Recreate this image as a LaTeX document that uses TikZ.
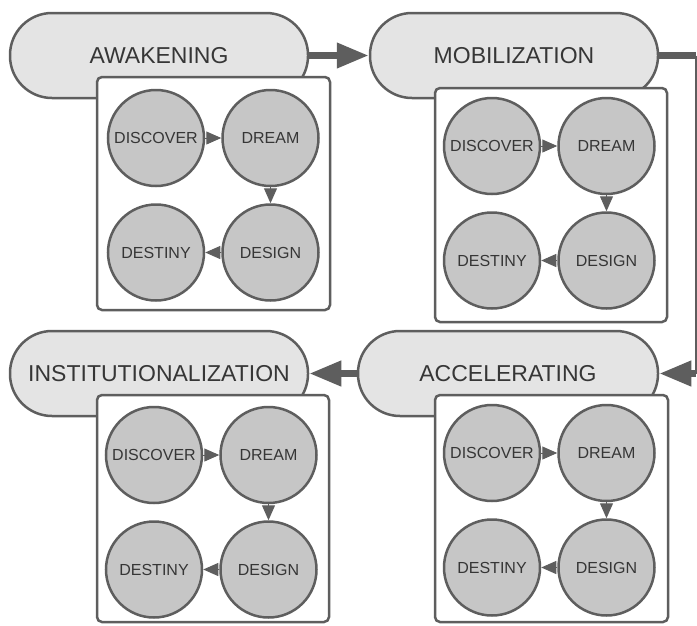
\documentclass[tikz,border=0pt]{standalone}
\usepackage{fontspec}
\setmainfont{Liberation Sans}
\usetikzlibrary{positioning,arrows.meta}

\definecolor{edgegray}{HTML}{5E5E5E}
\definecolor{pillfill}{HTML}{E4E4E4}
\definecolor{stagefill}{HTML}{C6C6C6}
\definecolor{textgray}{HTML}{363636}

\tikzset{
  phase/.style={draw=edgegray, line width=2.5pt, fill=pillfill, rounded corners=42pt,
    minimum height=85pt, text=textgray, font=\fontsize{23}{27}\selectfont},
  panel/.style={draw=edgegray, line width=2.5pt, fill=white, rounded corners=5pt},
  stage/.style={circle, draw=edgegray, line width=2.5pt, fill=stagefill, minimum size=96pt,
    inner sep=0pt, text=textgray, font=\fontsize{16}{19}\selectfont},
  flow/.style={draw=edgegray, line width=7pt, -{Triangle[length=32pt,width=24pt]}},
  stepedge/.style={draw=edgegray, line width=1pt, -{Triangle[length=15pt,width=13pt]}},
}

\begin{document}
\begin{tikzpicture}[x=1pt, y=-1pt, node distance=16pt]
    \useasboundingbox (0,0) rectangle (697,625);

    % Define nodes
    \node[phase, minimum width=298pt] (awakening)    at (159,55.5)  {AWAKENING};
    \node[phase, minimum width=288pt] (mobilization) at (514,55.5)  {MOBILIZATION};
    \node[phase, minimum width=300pt] (accelerating) at (508,373.5) {ACCELERATING};
    \node[phase, minimum width=298pt] (institution)  at (159,373.5) {INSTITUTIONALIZATION};

    % Panels
    \node[panel, minimum width=233pt, minimum height=233pt] (aw-box)  at (213.5,193.5) {};
    \node[panel, minimum width=232pt, minimum height=234pt] (mob-box) at (551,205)     {};
    \node[panel, minimum width=232pt, minimum height=227pt] (ins-box) at (213,508.5)   {};
    \node[panel, minimum width=233pt, minimum height=227pt] (acc-box) at (551.5,508.5) {};

    % Awakening cycle
    \node[stage]                      (aw-discover) at (156,138) {DISCOVER};
    \node[stage, right=of aw-discover] (aw-dream)   {DREAM};
    \node[stage, below=of aw-dream]    (aw-design)  {DESIGN};
    \node[stage, left=of aw-design]    (aw-destiny) {DESTINY};

    % Mobilization cycle
    \node[stage]                        (mob-discover) at (492,146) {DISCOVER};
    \node[stage, right=of mob-discover] (mob-dream)   {DREAM};
    \node[stage, below=of mob-dream]    (mob-design)  {DESIGN};
    \node[stage, left=of mob-design]    (mob-destiny) {DESTINY};

    % Institutionalization cycle
    \node[stage]                        (ins-discover) at (154,455) {DISCOVER};
    \node[stage, right=of ins-discover] (ins-dream)   {DREAM};
    \node[stage, below=of ins-dream]    (ins-design)  {DESIGN};
    \node[stage, left=of ins-design]    (ins-destiny) {DESTINY};

    % Accelerating cycle
    \node[stage]                        (acc-discover) at (492,453) {DISCOVER};
    \node[stage, right=of acc-discover] (acc-dream)   {DREAM};
    \node[stage, below=of acc-dream]    (acc-design)  {DESIGN};
    \node[stage, left=of acc-design]    (acc-destiny) {DESTINY};

    % Connect the nodes
    \draw[stepedge] (aw-discover) -- (aw-dream);
    \draw[stepedge] (aw-dream) -- (aw-design);
    \draw[stepedge] (aw-design) -- (aw-destiny);
    \draw[stepedge] (mob-discover) -- (mob-dream);
    \draw[stepedge] (mob-dream) -- (mob-design);
    \draw[stepedge] (mob-design) -- (mob-destiny);
    \draw[stepedge] (ins-discover) -- (ins-dream);
    \draw[stepedge] (ins-dream) -- (ins-design);
    \draw[stepedge] (ins-design) -- (ins-destiny);
    \draw[stepedge] (acc-discover) -- (acc-dream);
    \draw[stepedge] (acc-dream) -- (acc-design);
    \draw[stepedge] (acc-design) -- (acc-destiny);

    % Phase flow
    \coordinate (mob-out) at (695.5,55.5);
    \coordinate (acc-in)  at (695.5,373.5);
    \draw[flow] (awakening) -- (mobilization);
    \draw[edgegray, line width=7pt] (mobilization) -- (mob-out);
    \draw[edgegray, line width=2pt] (mob-out) -- (acc-in);
    \draw[flow] (acc-in) -- (accelerating);
    \draw[flow] (accelerating) -- (institution);

\end{tikzpicture}
\end{document}
